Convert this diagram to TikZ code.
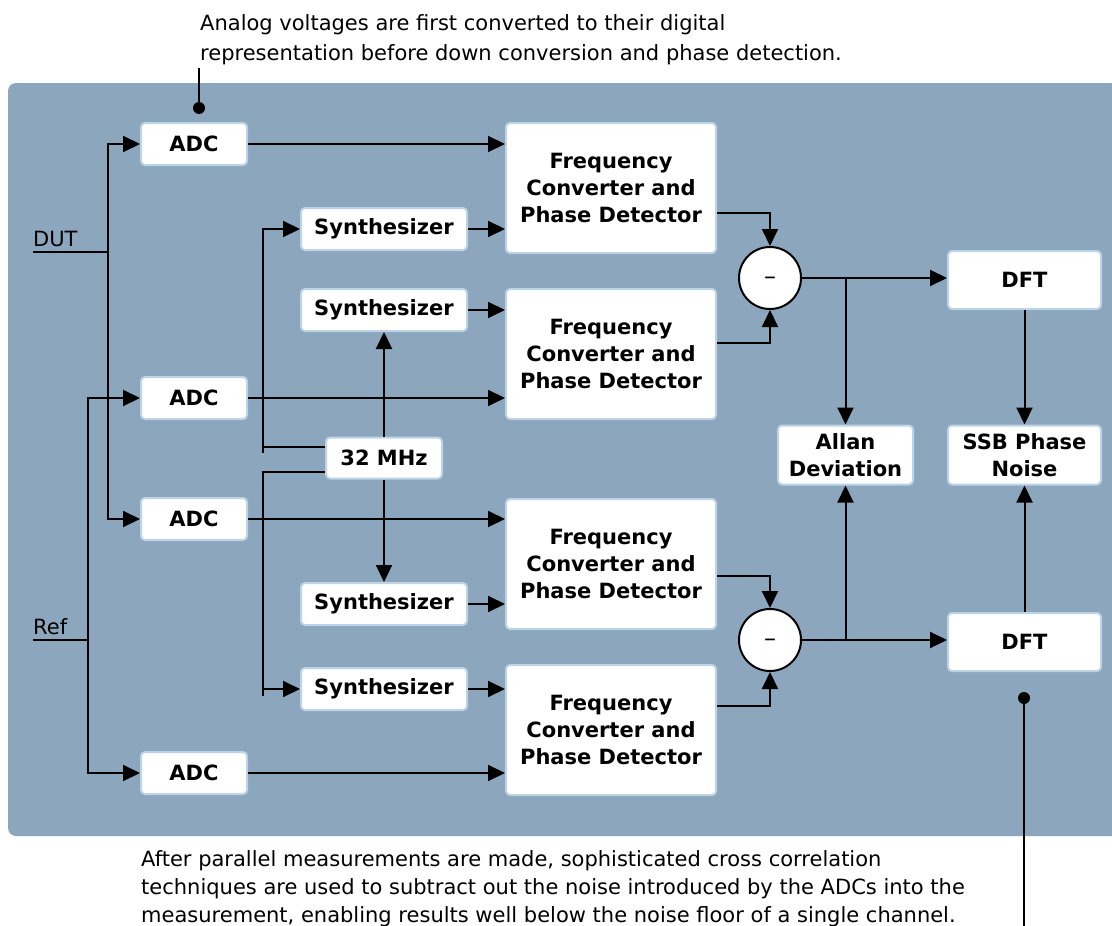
\documentclass[tikz,border=0pt]{standalone}
\usepackage{fontspec}
\setmainfont{DejaVu Sans}
\usetikzlibrary{arrows.meta}
\definecolor{bgblue}{HTML}{8CA6BE}
\definecolor{boxedge}{HTML}{BDD3E8}
\begin{document}
\begin{tikzpicture}[x=1pt,y=-1pt,
  line/.style={line width=2pt, black},
  arr/.style={line, -{Triangle[length=17pt,width=16pt]}},
  box/.style={draw=boxedge, line width=2pt, fill=white, rounded corners=4pt, inner sep=0pt, align=center, font=\bfseries\fontsize{21}{27}\selectfont},
  adcbox/.style={box, minimum width=106pt, minimum height=42pt},
  synbox/.style={box, minimum width=166pt, minimum height=42pt},
  fcbox/.style={box, minimum width=210pt, minimum height=130pt},
  dftbox/.style={box, minimum width=153pt, minimum height=58pt},
  subnode/.style={circle, draw=black, line width=2pt, fill=white, minimum size=62pt, inner sep=0pt, text height=0pt, text depth=0pt, font=\fontsize{24}{24}\selectfont},
  note/.style={inner sep=0pt, align=left, font=\fontsize{21}{30}\selectfont},
  dot/.style={circle, fill=black, minimum size=12pt, inner sep=0pt}]
\useasboundingbox (0,0) rectangle (1112,926);
\fill[bgblue, rounded corners=8pt] (8,83) rectangle (1130,836);

% ADCs
\node[adcbox] (adc1) at (194,144) {ADC};
\node[adcbox] (adc2) at (194,398) {ADC};
\node[adcbox] (adc3) at (194,519) {ADC};
\node[adcbox] (adc4) at (194,773) {ADC};
% Synthesizers
\node[synbox] (syn1) at (384,229) {Synthesizer};
\node[synbox] (syn2) at (384,310) {Synthesizer};
\node[synbox] (syn3) at (384,604) {Synthesizer};
\node[synbox] (syn4) at (384,689) {Synthesizer};
\node[box, minimum width=116pt, minimum height=41pt] (clk) at (384,458) {32 MHz};
% Frequency converters
\node[fcbox] (fc1) at (611,188) {Frequency\\Converter and\\Phase Detector};
\node[fcbox] (fc2) at (611,354) {Frequency\\Converter and\\Phase Detector};
\node[fcbox] (fc3) at (611,564) {Frequency\\Converter and\\Phase Detector};
\node[fcbox] (fc4) at (611,730) {Frequency\\Converter and\\Phase Detector};
% Subtractors
\node[subnode] (sub1) at (770,278) {\raisebox{-0.28em}{\textendash}};
\node[subnode] (sub2) at (770,640) {\raisebox{-0.28em}{\textendash}};
% Outputs
\node[dftbox] (dft1) at (1024.5,280) {DFT};
\node[dftbox] (dft2) at (1024.5,642) {DFT};
\node[box, minimum width=153pt, minimum height=59pt] (ssb) at (1024.5,455) {SSB Phase\\Noise};
\node[box, minimum width=135pt, minimum height=59pt] (allan) at (845.5,455) {Allan\\Deviation};

% Inputs
\node[anchor=base west, inner sep=0pt, font=\fontsize{21}{25}\selectfont] (dutlbl) at (33,246) {DUT};
\coordinate (dutin) at (33,252);
\coordinate (dutj) at (108,252);
\draw[line] (dutin) -- (dutj);
\draw[arr] (dutj) |- (adc1.west);
\draw[arr] (dutj) |- (adc3.west);
\node[anchor=base west, inner sep=0pt, font=\fontsize{21}{25}\selectfont] (reflbl) at (33,634) {Ref};
\coordinate (refin) at (33,640);
\coordinate (refj) at (88,640);
\draw[line] (refin) -- (refj);
\draw[arr] (refj) |- (adc2.west);
\draw[arr] (refj) |- (adc4.west);

% ADC -> converters
\draw[arr] (adc1.east) -- (fc1.west |- adc1.east);
\draw[arr] (adc2.east) -- (fc2.west |- adc2.east);
\draw[arr] (adc3.east) -- (fc3.west |- adc3.east);
\draw[arr] (adc4.east) -- (fc4.west |- adc4.east);
% Synth -> converters
\draw[arr] (syn1.east) -- (fc1.west |- syn1.east);
\draw[arr] (syn2.east) -- (fc2.west |- syn2.east);
\draw[arr] (syn3.east) -- (fc3.west |- syn3.east);
\draw[arr] (syn4.east) -- (fc4.west |- syn4.east);
% Clock distribution
\draw[arr] (clk.north) -- (syn2.south);
\draw[arr] (clk.south) -- (syn3.north);
\coordinate (c1) at (263,447);
\coordinate (c2) at (263,472);
\draw[arr] ([yshift=11pt]clk.west) -- (c1) |- (syn1.west);
\draw[line] (c1) -- ++(0,6);
\draw[arr] ([yshift=-14pt]clk.west) -- (c2) |- (syn4.west);
\draw[line] (c2 |- syn4.west) -- ++(0,7);

% Converters -> subtractors
\draw[arr] ([yshift=-25pt]fc1.east) -| (sub1.north);
\draw[arr] ([yshift=11pt]fc2.east) -| (sub1.south);
\draw[arr] ([yshift=-12pt]fc3.east) -| (sub2.north);
\draw[arr] ([yshift=24pt]fc4.east) -| (sub2.south);

% Subtractors -> outputs
\draw[arr] (sub1.east) -- (dft1.west |- sub1.east);
\draw[arr] (sub2.east) -- (dft2.west |- sub2.east);
\coordinate (b1) at (allan.north |- sub1.east);
\coordinate (b2) at (allan.south |- sub2.east);
\draw[arr] (b1) -- (allan.north);
\draw[arr] (b2) -- (allan.south);
\draw[arr] (dft1.south) -- (ssb.north);
\draw[arr] (dft2.north) -- (ssb.south);

% Notes
\node[note, anchor=north west] (topnote) at (200,14) {Analog voltages are first converted to their digital\\representation before down conversion and phase detection.};
\coordinate (topline) at (199,68);
\node[dot] (topdot) at (199,108) {};
\draw[line] (topline) -- (topdot.center);
\node[note, anchor=north west, font=\fontsize{21}{28}\selectfont] (botnote) at (141,850) {After parallel measurements are made, sophisticated cross correlation\\techniques are used to subtract out the noise introduced by the ADCs into the\\measurement, enabling results well below the noise floor of a single channel.};
\node[dot] (botdot) at (1024,698) {};
\coordinate (botline) at (1024,926);
\draw[line] (botdot.center) -- (botline);
\end{tikzpicture}
\end{document}
